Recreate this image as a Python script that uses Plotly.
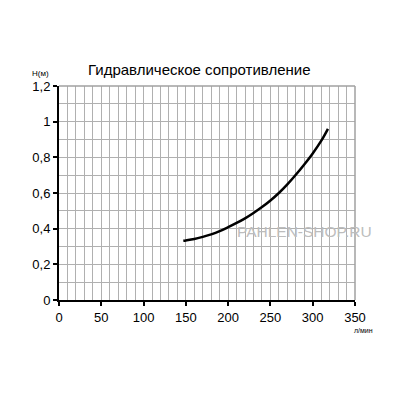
import plotly.graph_objects as go

# расход (л/мин) и гидравлическое сопротивление (м)
flow = [147, 150, 160, 170, 180, 190, 200, 210, 220, 230, 240, 250,
        260, 270, 280, 290, 300, 310, 318]
head = [0.332, 0.334, 0.342, 0.354, 0.368, 0.386, 0.408, 0.432, 0.458,
        0.488, 0.521, 0.558, 0.600, 0.648, 0.702, 0.760, 0.822, 0.892, 0.960]

x_ticks = [0, 50, 100, 150, 200, 250, 300, 350]
y_ticks = [0, 0.2, 0.4, 0.6, 0.8, 1, 1.2]
y_labels = ["0", "0,2", "0,4", "0,6", "0,8", "1", "1,2"]

font_name = "Liberation Sans, Arial, sans-serif"
grid = "#b0b0b0"

fig = go.Figure()
fig.add_trace(go.Scatter(
    x=flow, y=head,
    mode="lines",
    line=dict(color="black", width=2.5, shape="spline"),
    showlegend=False,
    hoverinfo="skip",
))

# страница имеет отступ 8px, поэтому фигура чуть меньше окна
fig.update_layout(
    width=392, height=392,
    margin=dict(l=51, r=45, t=78, b=100),
    paper_bgcolor="white",
    plot_bgcolor="white",
    font=dict(family=font_name, size=13, color="black"),
    xaxis=dict(
        range=[0, 350],
        tickvals=x_ticks,
        ticks="outside", ticklen=4, tickwidth=2, tickcolor="black",
        showline=True, linecolor="black", linewidth=2,
        showgrid=True, gridcolor=grid, gridwidth=1,
        minor=dict(dtick=10, showgrid=True, gridcolor=grid, gridwidth=1),
        zeroline=False,
        fixedrange=True,
    ),
    yaxis=dict(
        range=[0, 1.2],
        tickvals=y_ticks, ticktext=y_labels,
        ticks="outside", ticklen=4, tickwidth=2, tickcolor="black",
        showline=True, linecolor="black", linewidth=2,
        showgrid=True, gridcolor=grid, gridwidth=1,
        minor=dict(dtick=0.1, showgrid=True, gridcolor=grid, gridwidth=1),
        zeroline=False,
        fixedrange=True,
    ),
)

# рамка сверху и справа
fig.add_shape(type="line", xref="paper", yref="paper", x0=0, x1=1, y0=1, y1=1,
              line=dict(color="#a0a0a0", width=1.5))
fig.add_shape(type="line", xref="paper", yref="paper", x0=1, x1=1, y0=0, y1=1,
              line=dict(color="#a0a0a0", width=1.5))

fig.add_annotation(text="Гидравлическое сопротивление",
                   xref="paper", yref="paper", x=0.475, y=1.0, yshift=6,
                   xanchor="center", yanchor="bottom", showarrow=False,
                   font=dict(family=font_name, size=15, color="black"))
fig.add_annotation(text="Н(м)", xref="paper", yref="paper", x=0, y=1.0,
                   xshift=-8, yshift=6, xanchor="right", yanchor="bottom",
                   showarrow=False,
                   font=dict(family=font_name, size=8, color="black"))
fig.add_annotation(text="л/мин", xref="paper", yref="paper", x=1, y=0,
                   xshift=8, yshift=-25, xanchor="center", yanchor="top",
                   showarrow=False,
                   font=dict(family=font_name, size=7, color="black"))
fig.add_annotation(text="PAHLEN-SHOP.RU", xref="paper", yref="paper",
                   x=0.83, y=0.32, xanchor="center", yanchor="middle",
                   showarrow=False,
                   font=dict(family=font_name, size=15.5, color="#bdbdbd"))

fig.write_html("out.html")
